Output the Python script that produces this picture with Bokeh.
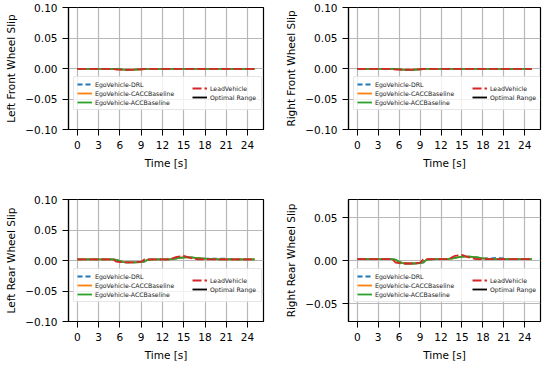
from bokeh.plotting import figure
from bokeh.layouts import column, row
from bokeh.models import (FixedTicker, Range1d, Legend, LegendItem,
                          CustomJSTickFormatter)
from bokeh.embed import file_html
from bokeh.resources import INLINE

# ---------------- data ----------------
t = [0, 1, 2, 3, 4, 5, 5.5, 6, 6.5, 7, 8, 9, 9.5, 10, 11, 12, 13, 14, 15,
     16, 17, 18, 19, 20, 21, 22, 23, 24, 25]

lf_drl = [-0.0005, -0.0005, -0.0005, -0.0005, -0.0005, -0.0005, -0.0008, -0.001, -0.0018, -0.002,
          -0.002, -0.0012, -0.0008, -0.0005, -0.0005, -0.0005, -0.0005, -0.0005, -0.0005,
          -0.0005, -0.0005, -0.0005, -0.0005, -0.0005, -0.0005, -0.0005, -0.0005, -0.0005, -0.0005]
lf_cacc = [-0.0005, -0.0005, -0.0005, -0.0005, -0.0005, -0.0005, -0.0008, -0.001, -0.0018, -0.002,
           -0.002, -0.0012, -0.0008, -0.0005, -0.0005, -0.0005, -0.0005, -0.0005, -0.0005,
           -0.0005, -0.0005, -0.0005, -0.0005, -0.0005, -0.0005, -0.0005, -0.0005, -0.0005, -0.0005]
lf_acc = [-0.0005, -0.0005, -0.0005, -0.0005, -0.0005, -0.0005, -0.0008, -0.0012, -0.002, -0.0022,
          -0.002, -0.0012, -0.0008, -0.0005, -0.0005, -0.0005, -0.0005, -0.0005, -0.0005,
          -0.0005, -0.0005, -0.0005, -0.0005, -0.0005, -0.0005, -0.0005, -0.0005, -0.0005, -0.0005]
lf_lead = [-0.0005, -0.0005, -0.0005, -0.0005, -0.0005, -0.0005, -0.002, -0.002, -0.0022, -0.0022,
           -0.0018, -0.0012, -0.0005, -0.0005, -0.0005, -0.0005, -0.0005, -0.0005, -0.0005,
           -0.0005, -0.0005, -0.0005, -0.0005, -0.0005, -0.0005, -0.0005, -0.0005, -0.0005, -0.0005]

rf_drl = lf_drl
rf_cacc = lf_cacc
rf_acc = [-0.0005, -0.0005, -0.0005, -0.0005, -0.0005, -0.0005, -0.0008, -0.0012, -0.002, -0.0025,
          -0.0022, -0.0012, -0.0008, -0.0005, -0.0005, -0.0005, -0.0005, -0.0005, -0.0005,
          -0.0005, -0.0005, -0.0005, -0.0005, -0.0005, -0.0005, -0.0005, -0.0005, -0.0005, -0.0005]
rf_lead = lf_lead

lr_drl = [0.002, 0.002, 0.002, 0.002, 0.002, 0.002, 0.001, -0.001, -0.0025, -0.003,
          -0.003, -0.0025, -0.002, 0.0015, 0.002, 0.002, 0.002, 0.0035, 0.005,
          0.005, 0.004, 0.003, 0.003, 0.003, 0.003, 0.002, 0.002, 0.002, 0.002]
lr_cacc = [0.002, 0.002, 0.002, 0.002, 0.002, 0.002, 0.001, -0.001, -0.0025, -0.003,
           -0.003, -0.0025, -0.001, 0.0015, 0.002, 0.002, 0.002, 0.0035, 0.005,
           0.005, 0.004, 0.003, 0.0025, 0.002, 0.002, 0.002, 0.002, 0.002, 0.002]
lr_acc = [0.002, 0.002, 0.002, 0.002, 0.002, 0.002, 0.001, -0.001, -0.0025, -0.003,
          -0.003, -0.0025, -0.001, 0.0015, 0.002, 0.002, 0.002, 0.0035, 0.005,
          0.005, 0.004, 0.003, 0.0025, 0.002, 0.002, 0.002, 0.002, 0.002, 0.002]
lr_lead = [0.002, 0.002, 0.002, 0.002, 0.002, 0.002, -0.002, -0.0025, -0.003, -0.003,
           -0.003, -0.002, 0.002, 0.002, 0.002, 0.002, 0.002, 0.006, 0.0075,
           0.004, 0.002, 0.002, 0.002, 0.002, 0.002, 0.002, 0.002, 0.002, 0.002]

rr_drl = [0.0025, 0.0025, 0.002, 0.002, 0.002, 0.002, 0.001, -0.001, -0.0025, -0.003,
          -0.003, -0.0025, -0.002, 0.0015, 0.002, 0.002, 0.002, 0.0035, 0.005,
          0.005, 0.004, 0.003, 0.003, 0.0035, 0.003, 0.002, 0.002, 0.002, 0.002]
rr_cacc = [0.002, 0.002, 0.002, 0.002, 0.002, 0.002, 0.001, -0.001, -0.0025, -0.003,
           -0.003, -0.0025, -0.001, 0.0015, 0.002, 0.002, 0.002, 0.0035, 0.005,
           0.005, 0.004, 0.003, 0.0025, 0.002, 0.002, 0.002, 0.002, 0.002, 0.002]
rr_acc = [0.002, 0.002, 0.002, 0.002, 0.002, 0.002, 0.0015, -0.001, -0.0025, -0.003,
          -0.003, -0.0025, -0.001, 0.0015, 0.002, 0.002, 0.002, 0.0035, 0.005,
          0.005, 0.0045, 0.003, 0.0025, 0.002, 0.002, 0.002, 0.002, 0.002, 0.002]
rr_lead = [0.002, 0.002, 0.002, 0.002, 0.002, 0.002, -0.002, -0.0025, -0.003, -0.003,
           -0.003, -0.002, 0.002, 0.002, 0.002, 0.002, 0.002, 0.006, 0.007,
           0.004, 0.002, 0.002, 0.002, 0.002, 0.002, 0.002, 0.002, 0.002, 0.002]

# optimal slip band (lies outside the plotted window)
optimal_range = [0.15, 0.20]
t_span = [0, 25]

x_ticks = [0, 3, 6, 9, 12, 15, 18, 21, 24]
y_ticks_full = [-0.10, -0.05, 0.0, 0.05, 0.10]
y_ticks_rr = [-0.05, 0.0, 0.05]

col1_names = ["EgoVehicle-DRL", "EgoVehicle-CACCBaseline", "EgoVehicle-ACCBaseline"]
col2_names = ["LeadVehicle", "Optimal Range"]

FONT = "DejaVu Sans"


def make_fig(ylabel, ys, yrange, yticks, fw, fh, bl, br, bt, bb):
    p = figure(frame_width=fw, frame_height=fh,
               min_border_left=bl, min_border_right=br,
               min_border_top=bt, min_border_bottom=bb,
               x_range=Range1d(-1.25, 26.25), y_range=Range1d(*yrange),
               output_backend="svg", toolbar_location=None)
    p.background_fill_color = "white"
    p.border_fill_color = "white"
    p.outline_line_color = "black"
    p.outline_line_width = 1.2

    for ax in (p.xaxis[0], p.yaxis[0]):
        ax.axis_line_color = "black"
        ax.axis_line_width = 1.2
        ax.major_tick_out = 6
        ax.major_tick_in = 0
        ax.major_tick_line_color = "black"
        ax.minor_tick_line_color = None
        ax.major_label_text_font = FONT
        ax.major_label_text_font_size = "10.5px"
        ax.major_label_text_color = "black"
        ax.major_label_standoff = 5
        ax.axis_label_text_font = FONT
        ax.axis_label_text_font_size = "10.5px"
        ax.axis_label_text_font_style = "normal"
        ax.axis_label_text_color = "black"
        ax.axis_label_standoff = 5

    p.xaxis.ticker = FixedTicker(ticks=x_ticks)
    p.yaxis.ticker = FixedTicker(ticks=yticks)
    p.yaxis.formatter = CustomJSTickFormatter(
        code="return tick.toFixed(2).replace('-', '\u2212');")
    p.xaxis.axis_label = "Time [s]"
    p.yaxis.axis_label = ylabel

    p.grid.grid_line_color = "#b8b8b8"
    p.grid.grid_line_width = 1.2

    drl, cacc, acc, lead = ys
    r1 = p.line(t, drl, color="#1f77b4", line_width=1.8, line_dash="5 3")
    r2 = p.line(t, cacc, color="#ff7f0e", line_width=1.8)
    r3 = p.line(t, acc, color="#2ca02c", line_width=1.8)
    r4 = p.line(t, lead, color="#d62728", line_width=1.8, line_dash="9 3")
    r5 = p.multi_line([t_span, t_span],
                      [[optimal_range[0]] * 2, [optimal_range[1]] * 2],
                      color="black", line_width=1.8)

    def style(leg, box):
        leg.label_text_font = FONT
        leg.label_text_font_size = "6.2px"
        leg.label_text_color = "#222222"
        leg.glyph_width = 15
        leg.glyph_height = 8
        leg.label_height = 8
        leg.label_standoff = 3
        leg.spacing = 1
        leg.padding = 3
        leg.margin = 0
        if box:
            leg.background_fill_color = "white"
            leg.background_fill_alpha = 0.8
            leg.border_line_color = "#cccccc"
            leg.border_line_width = 1
            leg.border_radius = 2
        else:
            leg.background_fill_alpha = 0
            leg.border_line_color = None

    leg1 = Legend(items=[LegendItem(label=n, renderers=[r])
                         for n, r in zip(col1_names, [r1, r2, r3])],
                  location=(5, 19), label_width=163)
    style(leg1, True)
    leg2 = Legend(items=[LegendItem(label=n, renderers=[r])
                         for n, r in zip(col2_names, [r4, r5])],
                  location=(124, 28))
    style(leg2, False)
    p.add_layout(leg1, "center")
    p.add_layout(leg2, "center")
    return p


p1 = make_fig("Left Front Wheel Slip", (lf_drl, lf_cacc, lf_acc, lf_lead),
              (-0.10, 0.10), y_ticks_full, 195, 122, 68, 12, 7, 54)
p2 = make_fig("Right Front Wheel Slip", (rf_drl, rf_cacc, rf_acc, rf_lead),
              (-0.10, 0.10), y_ticks_full, 192, 122, 73, 10, 7, 54)
p3 = make_fig("Left Rear Wheel Slip", (lr_drl, lr_cacc, lr_acc, lr_lead),
              (-0.10, 0.10), y_ticks_full, 195, 122, 68, 12, 16, 45)
p4 = make_fig("Right Rear Wheel Slip", (rr_drl, rr_cacc, rr_acc, rr_lead),
              (-0.0705, 0.0715), y_ticks_rr, 192, 122, 73, 10, 16, 45)

layout = column(row(p1, p2), row(p3, p4))

open("out.html", "w").write(file_html(layout, INLINE))
